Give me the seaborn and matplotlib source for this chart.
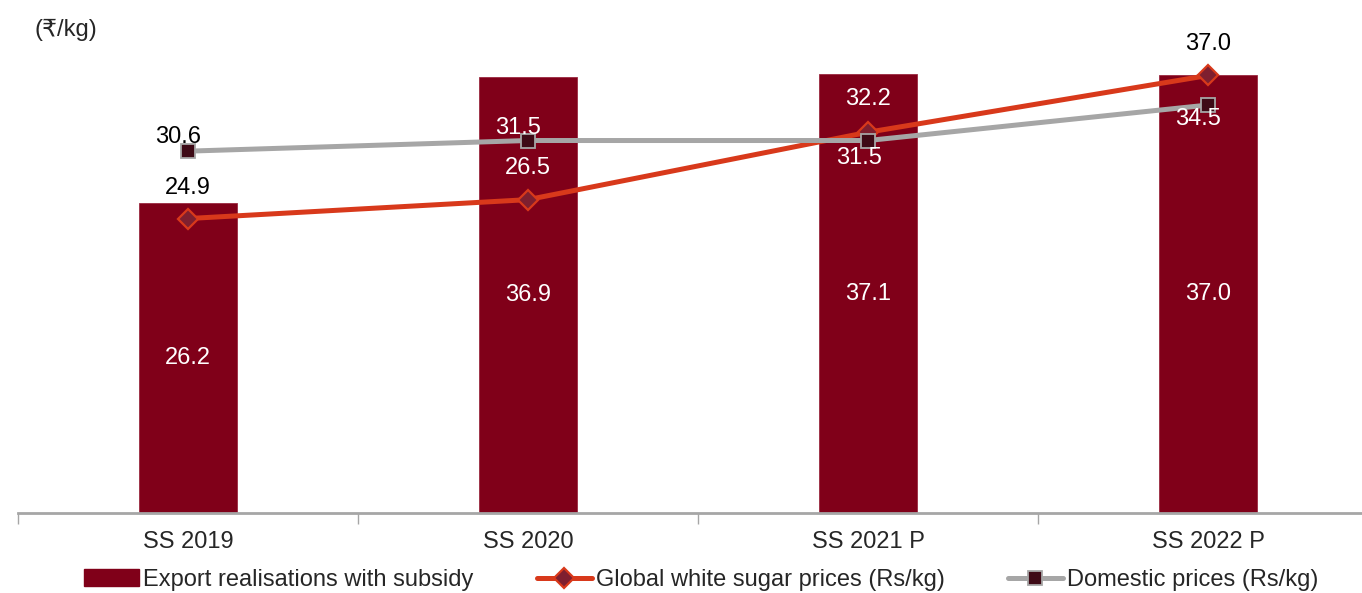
import matplotlib
matplotlib.use("Agg")
import matplotlib.pyplot as plt
import seaborn as sns
import pandas as pd
import numpy as np
from matplotlib.patches import Patch
from matplotlib.lines import Line2D

categories = ["SS 2019", "SS 2020", "SS 2021 P", "SS 2022 P"]
export_real = [26.2, 36.9, 37.1, 37.0]
global_prices = [24.9, 26.5, 32.2, 37.0]
domestic_prices = [30.6, 31.5, 31.5, 34.5]
series_names = ["Export realisations with subsidy",
                "Global white sugar prices (Rs/kg)",
                "Domestic prices (Rs/kg)"]
unit_label = "(₹/kg)"

# label offsets in pixels (dx, dy) relative to the marker
global_offsets = [(0, 31), (0, 32), (0, 33), (0, 31)]
domestic_offsets = [(-10, 14), (-10, 13), (-9, -17), (-10, -14)]

sns.set_theme(style="white")
plt.rcParams['font.family'] = ['Liberation Sans', 'DejaVu Sans']

FS = 17
BAR = "#800019"
ORANGE = "#D8391B"
GRAY = "#A6A6A6"
DIA_FILL = "#7F1F2F"
SQ_FILL = "#3E0A16"

fig = plt.figure(figsize=(13.62, 5.93), dpi=100)
ax = fig.add_axes([18/1362, 80/593, 1360/1362, 473/593])

df = pd.DataFrame({"cat": categories, "val": export_real})
sns.barplot(data=df, x="cat", y="val", color=BAR, width=0.29, ax=ax,
            saturation=1, edgecolor="#9a2a40", linewidth=0.6)

xs = np.arange(len(categories))
sns.lineplot(x=xs, y=global_prices, ax=ax, color=ORANGE, linewidth=3.6,
             marker="D", markersize=10.5, zorder=4)
l1 = ax.lines[-1]
l1.set_markerfacecolor(DIA_FILL); l1.set_markeredgecolor(ORANGE); l1.set_markeredgewidth(1.6)
sns.lineplot(x=xs, y=domestic_prices, ax=ax, color=GRAY, linewidth=3.6,
             marker="s", markersize=9.5, zorder=5)
l2 = ax.lines[-1]
l2.set_markerfacecolor(SQ_FILL); l2.set_markeredgecolor(GRAY); l2.set_markeredgewidth(1.3)

ax.set_ylim(0, 40)
ax.set_xlim(-0.5, 3.5)

px_per_unit = 473 / 40.0

def label(vals, offsets):
    for i, (v, (dx, dy)) in enumerate(zip(vals, offsets)):
        ly = v + dy / px_per_unit
        col = "white" if ly < export_real[i] - 0.3 else "black"
        ax.annotate(f"{v:.1f}", (i, v), xytext=(dx, dy), textcoords="offset pixels",
                    ha="center", va="center", fontsize=FS, color=col, zorder=6)

for i, v in enumerate(export_real):
    ax.text(i, v / 2, f"{v:.1f}", ha="center", va="center", fontsize=FS,
            color="white", zorder=6)
label(global_prices, global_offsets)
label(domestic_prices, domestic_offsets)

for s in ["top", "right", "left"]:
    ax.spines[s].set_visible(False)
ax.spines["bottom"].set_color(GRAY)
ax.spines["bottom"].set_linewidth(2)
ax.set_yticks([])
ax.set_xticks(xs)
ax.set_xticklabels(categories, fontsize=FS)
ax.set_xlabel("")
ax.set_ylabel("")
ax.set_xticks(np.arange(-0.5, 4.0, 1.0), minor=True)
ax.tick_params(axis="x", which="major", length=0, pad=13)
ax.tick_params(axis="x", which="minor", length=8, width=1, color=GRAY, direction="out", bottom=True)

fig.text(35/1362, 1 - 30/593, unit_label, fontsize=FS, ha="left", va="center")

handles = [
    Patch(facecolor=BAR, edgecolor=BAR),
    Line2D([0], [0], color=ORANGE, linewidth=3.6, marker="D", markersize=10.5,
           markerfacecolor=DIA_FILL, markeredgecolor=ORANGE, markeredgewidth=1.6),
    Line2D([0], [0], color=GRAY, linewidth=3.6, marker="s", markersize=9.5,
           markerfacecolor=SQ_FILL, markeredgecolor=GRAY, markeredgewidth=1.3),
]
fig.legend(handles, series_names, loc="center", bbox_to_anchor=(701/1362, 1 - 580/593),
           ncol=3, frameon=False, fontsize=FS, handlelength=2.35, handletextpad=0.15,
           columnspacing=2.68, borderpad=0)

fig.savefig("out.png", dpi=100)
